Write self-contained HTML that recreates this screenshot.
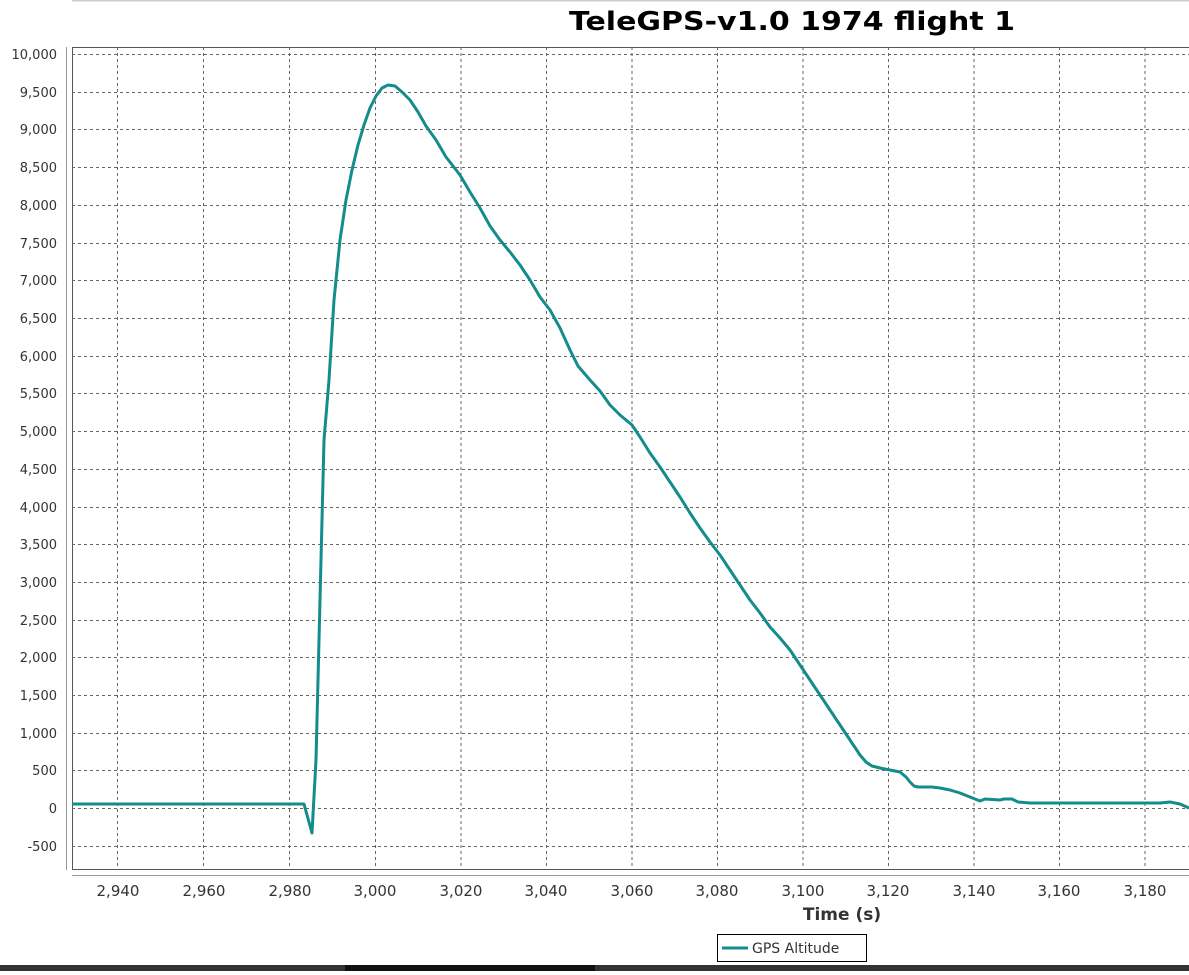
<!DOCTYPE html>
<html><head><style>
body{margin:0;width:1189px;height:971px;background:#fff;overflow:hidden;font-family:"DejaVu Sans","Liberation Sans",sans-serif}
</style></head><body>
<svg width="1189" height="971" xmlns="http://www.w3.org/2000/svg" font-family="DejaVu Sans, Liberation Sans, sans-serif">
<line x1="72" y1="0.5" x2="1189" y2="0.5" stroke="#ccc" stroke-width="2"/>
<text x="569" y="30" font-size="26" font-weight="bold" fill="#000" textLength="446" lengthAdjust="spacingAndGlyphs">TeleGPS-v1.0 1974 flight 1</text>
<rect x="72.5" y="47.5" width="1120" height="822" fill="#fff" stroke="#555"/>
<g stroke="#666" stroke-dasharray="3,3" stroke-width="1">
<line x1="72" y1="54.5" x2="1189" y2="54.5"/><line x1="72" y1="92.5" x2="1189" y2="92.5"/><line x1="72" y1="129.5" x2="1189" y2="129.5"/><line x1="72" y1="167.5" x2="1189" y2="167.5"/><line x1="72" y1="205.5" x2="1189" y2="205.5"/><line x1="72" y1="243.5" x2="1189" y2="243.5"/><line x1="72" y1="280.5" x2="1189" y2="280.5"/><line x1="72" y1="318.5" x2="1189" y2="318.5"/><line x1="72" y1="356.5" x2="1189" y2="356.5"/><line x1="72" y1="393.5" x2="1189" y2="393.5"/><line x1="72" y1="431.5" x2="1189" y2="431.5"/><line x1="72" y1="469.5" x2="1189" y2="469.5"/><line x1="72" y1="507.5" x2="1189" y2="507.5"/><line x1="72" y1="544.5" x2="1189" y2="544.5"/><line x1="72" y1="582.5" x2="1189" y2="582.5"/><line x1="72" y1="620.5" x2="1189" y2="620.5"/><line x1="72" y1="657.5" x2="1189" y2="657.5"/><line x1="72" y1="695.5" x2="1189" y2="695.5"/><line x1="72" y1="733.5" x2="1189" y2="733.5"/><line x1="72" y1="770.5" x2="1189" y2="770.5"/><line x1="72" y1="808.5" x2="1189" y2="808.5"/><line x1="72" y1="846.5" x2="1189" y2="846.5"/>
<line x1="117.5" y1="47" x2="117.5" y2="870"/><line x1="203.5" y1="47" x2="203.5" y2="870"/><line x1="289.5" y1="47" x2="289.5" y2="870"/><line x1="375.5" y1="47" x2="375.5" y2="870"/><line x1="461" y1="47" x2="461" y2="870"/><line x1="546.5" y1="47" x2="546.5" y2="870"/><line x1="632" y1="47" x2="632" y2="870"/><line x1="717.5" y1="47" x2="717.5" y2="870"/><line x1="803" y1="47" x2="803" y2="870"/><line x1="888.5" y1="47" x2="888.5" y2="870"/><line x1="974" y1="47" x2="974" y2="870"/><line x1="1059.5" y1="47" x2="1059.5" y2="870"/><line x1="1145" y1="47" x2="1145" y2="870"/>
</g>
<line x1="66.5" y1="47" x2="66.5" y2="870" stroke="#999"/>
<line x1="72" y1="875.5" x2="1189" y2="875.5" stroke="#999"/>
<g font-size="13" fill="#333" text-anchor="end">
<text x="57" y="59">10,000</text><text x="57" y="97">9,500</text><text x="57" y="134">9,000</text><text x="57" y="172">8,500</text><text x="57" y="210">8,000</text><text x="57" y="248">7,500</text><text x="57" y="285">7,000</text><text x="57" y="323">6,500</text><text x="57" y="361">6,000</text><text x="57" y="398">5,500</text><text x="57" y="436">5,000</text><text x="57" y="474">4,500</text><text x="57" y="512">4,000</text><text x="57" y="549">3,500</text><text x="57" y="587">3,000</text><text x="57" y="625">2,500</text><text x="57" y="662">2,000</text><text x="57" y="700">1,500</text><text x="57" y="738">1,000</text><text x="57" y="775">500</text><text x="57" y="813">0</text><text x="57" y="851">-500</text>
</g>
<g font-size="15" fill="#333" text-anchor="middle">
<text x="118" y="896">2,940</text><text x="204" y="896">2,960</text><text x="290" y="896">2,980</text><text x="375" y="896">3,000</text><text x="461" y="896">3,020</text><text x="546" y="896">3,040</text><text x="632" y="896">3,060</text><text x="717" y="896">3,080</text><text x="803" y="896">3,100</text><text x="888" y="896">3,120</text><text x="974" y="896">3,140</text><text x="1059" y="896">3,160</text><text x="1145" y="896">3,180</text>
</g>
<text x="842" y="920" font-size="17" font-weight="bold" text-anchor="middle" fill="#333">Time (s)</text>
<polyline fill="none" stroke="#138c8c" stroke-width="3" stroke-linejoin="round" points="72,804 304,804 312,833 316,760 320,600 324,440 329,380 334,300 340,240 346,200 352,170 358,145 364,125 370,108 376,96 382,88 388,85 395,86 402,92 410,100 418,112 426,126 436,140 446,157 460,175 470,192 480,208 490,226 500,240 510,252 520,265 530,280 540,297 550,310 560,328 570,350 578,366 590,380 600,391 610,405 620,415 632,425 640,437 650,453 660,467 670,482 680,497 690,513 700,528 710,542 720,555 730,570 740,585 750,600 760,613 770,627 780,638 790,650 800,665 810,680 820,695 830,710 840,725 850,740 860,755 866,762 872,766 880,768 890,770 900,772 906,777 910,782 914,786 918,787 926,787 932,787 940,788 950,790 960,793 970,797 980,801 985,799 1000,800 1004,799 1012,799 1018,802 1030,803 1050,803 1100,803 1160,803 1170,802 1180,804 1189,808"/>
<rect x="717.5" y="934.5" width="149" height="27" fill="#fff" stroke="#000"/>
<line x1="722" y1="948" x2="748" y2="948" stroke="#138c8c" stroke-width="3"/>
<text x="752" y="953" font-size="14" fill="#333">GPS Altitude</text>
<rect x="0" y="965" width="1189" height="6" fill="#333"/>
<rect x="345" y="965" width="250" height="6" fill="#111"/>
</svg>
</body></html>
